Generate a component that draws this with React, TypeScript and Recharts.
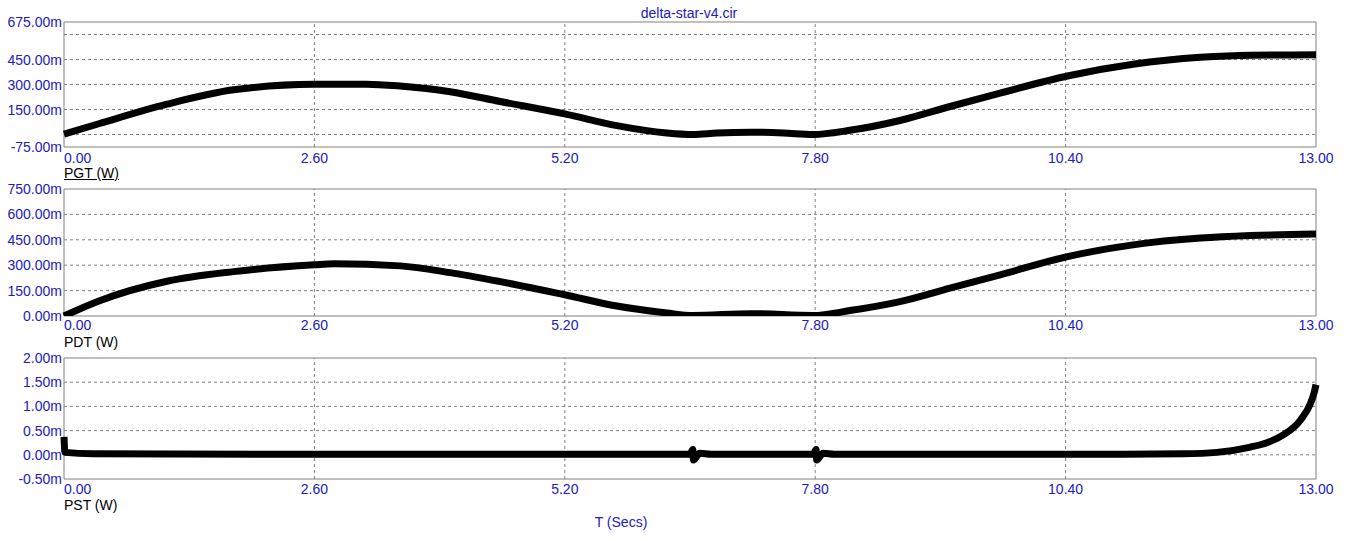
import React from "react";
import { LineChart, Line, XAxis, YAxis, ReferenceLine, ReferenceArea } from "recharts";

// time axis (seconds)
const TIME_TICKS = [0, 2.6, 5.2, 7.8, 10.4, 13];
const TIME_GRID = [2.6, 5.2, 7.8, 10.4];

// PGT (mW)
const pgtTime = [0, 0.37, 1.07, 1.76, 2.6, 3.14, 3.49, 4.01, 4.53, 5.21, 5.74, 6.26, 6.53, 6.78, 7.13, 7.47, 7.78, 8.16, 8.68, 9.2, 9.72, 10.42, 11.1, 11.8, 12.32, 13];
const pgtValues = [2, 66, 182, 268, 301, 302, 291, 257, 198, 122, 53, 9, 0, 9, 14, 9, 0, 25, 84, 168, 248, 351, 421, 463, 476, 478];
const pgtTicks = [-75, 150, 300, 450, 675];
const pgtGrid = [0, 150, 300, 450, 600];

// PDT (mW)
const pdtTime = [0, 0.37, 1.07, 1.76, 2.6, 2.8, 3.49, 4.01, 4.53, 5.21, 5.74, 6.26, 6.53, 7.13, 7.78, 8.16, 8.68, 9.2, 9.72, 10.42, 11.1, 11.8, 12.32, 13];
const pdtValues = [0, 90, 205, 262, 302, 308, 296, 256, 203, 124, 59, 18, 3, 14, 3, 32, 85, 164, 243, 351, 420, 460, 475, 484];
const pdtTicks = [0, 150, 300, 450, 600, 750];
const pdtGrid = [150, 300, 450, 600];

// PST (mW)
const pstTime = [0, 0.01, 0.3, 3.0, 6.5, 6.53, 6.535, 6.6, 6.72, 7.78, 7.81, 7.815, 7.88, 8.0, 11.0, 11.62, 11.97, 12.32, 12.49, 12.66, 12.84, 12.94, 12.98, 13];
const pstValues = [0.37, 0.05, 0.02, 0.01, 0.01, 0.11, -0.11, 0.03, 0.01, 0.01, 0.11, -0.11, 0.03, 0.01, 0.01, 0.02, 0.05, 0.16, 0.25, 0.41, 0.72, 1.05, 1.28, 1.45];
const pstTicks = [-0.5, 0, 0.5, 1, 1.5, 2];
const pstGrid = [0, 0.5, 1, 1.5];

const BLUE = "#2020c0";
const GRAY = "#808080";
const FONT = "'Liberation Sans', Arial, sans-serif";

const zip = (t: number[], v: number[]) => t.map((x, i) => ({ t: x, v: v[i] }));

const yTick = (props: any) => (
  <text x={props.x - 2} y={props.y} textAnchor="end" dominantBaseline="central" fill={BLUE} fontSize={14} fontFamily={FONT}>
    {`${Number(props.payload.value).toFixed(2)}m`}
  </text>
);

const makeXTick = (dy: number) => (props: any) => {
  const v = Number(props.payload.value);
  return (
    <text x={props.x} y={props.y + dy} textAnchor={v === 0 ? "start" : "middle"} dominantBaseline="central" fill={BLUE} fontSize={14} fontFamily={FONT}>
      {v.toFixed(2)}
    </text>
  );
};

function Panel({ top, marginTop, height, domain, ticks, grid, data, tickDy }: {
  top: number; marginTop: number; height: number; domain: [number, number];
  ticks: number[]; grid: number[]; data: { t: number; v: number }[]; tickDy: number;
}) {
  return (
    <div style={{ position: "absolute", left: 0, top }}>
      <LineChart width={1353} height={height} data={data} margin={{ top: marginTop, right: 37, bottom: 0, left: 0 }}>
        <XAxis dataKey="t" type="number" domain={[0, 13]} ticks={TIME_TICKS} height={22} axisLine={false} tickLine={false} tickSize={0} tickMargin={0} tick={makeXTick(tickDy)} interval={0} />
        <YAxis type="number" domain={domain} ticks={ticks} width={64} axisLine={false} tickLine={false} tickSize={0} tickMargin={0} tick={yTick} interval={0} allowDataOverflow />
        {grid.map((g) => (
          <ReferenceLine key={`h${g}`} y={g} stroke={GRAY} strokeDasharray="3 3" />
        ))}
        {TIME_GRID.map((g) => (
          <ReferenceLine key={`v${g}`} x={g} stroke={GRAY} strokeDasharray="3 3" />
        ))}
        <ReferenceArea x1={0} x2={13} y1={domain[0]} y2={domain[1]} fill="none" stroke={GRAY} strokeWidth={1} />
        <Line dataKey="v" type="monotone" stroke="#000" strokeWidth={7} dot={false} isAnimationActive={false} />
      </LineChart>
    </div>
  );
}

const label: React.CSSProperties = { position: "absolute", fontFamily: FONT, fontSize: 14, lineHeight: "16px", whiteSpace: "nowrap" };

export default function App() {
  return (
    <div style={{ position: "absolute", left: 0, top: 0, width: 1353, height: 541, background: "#fff" }}>
      <div style={{ ...label, left: 589, width: 200, top: 5, textAlign: "center", color: BLUE }}>delta-star-v4.cir</div>
      <Panel top={0} marginTop={22} height={169} domain={[-75, 675]} ticks={pgtTicks} grid={pgtGrid} data={zip(pgtTime, pgtValues)} tickDy={11} />
      <div style={{ ...label, left: 64, top: 165, color: "#000", textDecoration: "underline" }}>PGT (W)</div>
      <Panel top={170} marginTop={19} height={168} domain={[0, 750]} ticks={pdtTicks} grid={pdtGrid} data={zip(pdtTime, pdtValues)} tickDy={9} />
      <div style={{ ...label, left: 64, top: 334, color: "#000" }}>PDT (W)</div>
      <Panel top={340} marginTop={18} height={161} domain={[-0.5, 2]} ticks={pstTicks} grid={pstGrid} data={zip(pstTime, pstValues)} tickDy={10} />
      <div style={{ ...label, left: 64, top: 497, color: "#000" }}>PST (W)</div>
      <div style={{ ...label, left: 521, width: 200, top: 514, textAlign: "center", color: BLUE }}>T (Secs)</div>
    </div>
  );
}
